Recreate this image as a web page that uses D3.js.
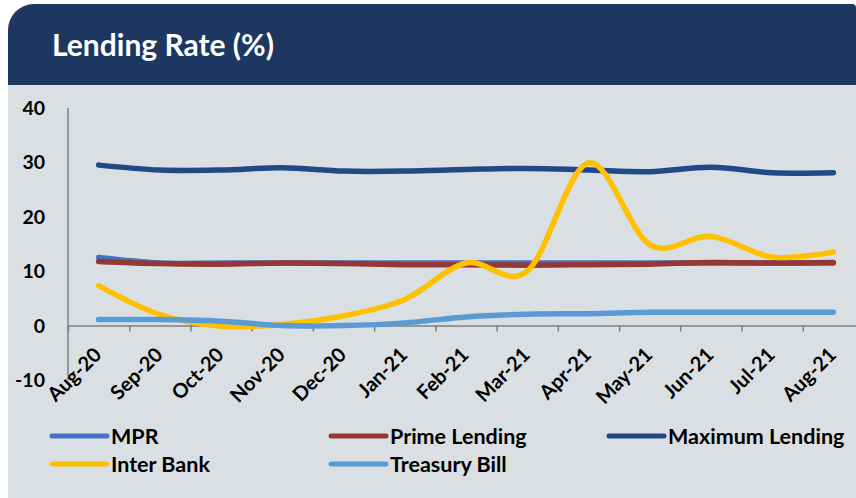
<!DOCTYPE html>
<html>
<head>
<meta charset="utf-8">
<script src="https://cdn.jsdelivr.net/npm/d3@7"></script>
<style>
  body { margin: 0; background: #ffffff; }
  text { font-family: Lato, "Open Sans", sans-serif; font-weight: bold; }
</style>
</head>
<body>
<div id="chart"></div>
<script>
// chart values
let months = ["Aug-20", "Sep-20", "Oct-20", "Nov-20", "Dec-20", "Jan-21", "Feb-21",
	"Mar-21", "Apr-21", "May-21", "Jun-21", "Jul-21", "Aug-21"];
let mpr = [12.5, 11.5, 11.5, 11.5, 11.5, 11.5, 11.5, 11.5, 11.5, 11.5, 11.5, 11.5, 11.5];
let primeLending = [11.8, 11.4, 11.3, 11.5, 11.4, 11.2, 11.2, 11.1, 11.2, 11.3, 11.6, 11.5, 11.6];
let maxLending = [29.5, 28.6, 28.6, 29.0, 28.4, 28.4, 28.7, 28.9, 28.6, 28.3, 29.1, 28.1, 28.1];
let interBank = [7.35, 2.0, -0.1, 0.2, 1.8, 4.8, 11.5, 10.0, 29.9, 14.9, 16.4, 12.6, 13.5];
let treasuryBill = [1.1, 1.1, 0.8, 0.0, 0.0, 0.5, 1.6, 2.1, 2.2, 2.45, 2.45, 2.45, 2.45];
let yTicks = [-10, 0, 10, 20, 30, 40];

let series = [
	{ name: "MPR", values: mpr, color: "#4472c4" },
	{ name: "Prime Lending", values: primeLending, color: "#953735" },
	{ name: "Maximum Lending", values: maxLending, color: "#1f4a86" },
	{ name: "Inter Bank", values: interBank, color: "#ffc000" },
	{ name: "Treasury Bill", values: treasuryBill, color: "#5b9bd5" }
];

let W = 856, H = 498;
let svg = d3.select("#chart").append("svg")
	.attr("width", W)
	.attr("height", H);

// panel + header
svg.append("rect")
	.attr("x", 8).attr("y", 85)
	.attr("width", W - 8).attr("height", H - 85)
	.attr("fill", "#d9dfe2");

let r = 26;
svg.append("path")
	.attr("d", `M8,85 L8,${4 + r} A${r},${r} 0 0 1 ${8 + r},4 L${W - 4},4 A4,4 0 0 1 ${W},8 L${W},85 Z`)
	.attr("fill", "#1e3761");

svg.append("text")
	.attr("x", 52).attr("y", 56)
	.attr("fill", "#ffffff")
	.style("font-size", "30px")
	.text("Lending Rate (%)");

// scales
let plotLeft = 68, plotRight = 864;
let x = d3.scaleBand()
	.domain(months)
	.range([plotLeft, plotRight])
	.padding(0);

let y = d3.scaleLinear()
	.domain([-10, 40])
	.range([380, 108]);

// y axis (line only, labels to the left)
svg.append("line")
	.attr("x1", plotLeft).attr("x2", plotLeft)
	.attr("y1", y(40)).attr("y2", y(-10))
	.attr("stroke", "#7f7f7f")
	.attr("stroke-width", 1.5);

svg.selectAll(".y-label")
	.data(yTicks)
	.enter().append("text")
	.attr("class", "y-label")
	.attr("x", 45)
	.attr("y", d => y(d))
	.attr("dy", "0.36em")
	.attr("text-anchor", "end")
	.attr("fill", "#000000")
	.style("font-size", "19.5px")
	.text(d => d);

// x axis at zero, ticks on category boundaries
let xEdge = d3.scaleLinear().domain([0, months.length]).range([plotLeft, plotRight]);
let xAxis = d3.axisBottom(xEdge)
	.tickValues(d3.range(0, months.length + 1))
	.tickSize(6)
	.tickSizeOuter(0)
	.tickFormat("");

let xg = svg.append("g")
	.attr("transform", "translate(0," + y(0) + ")")
	.call(xAxis);
xg.select(".domain").attr("stroke", "#7f7f7f").attr("stroke-width", 1.5);
xg.selectAll(".tick line").attr("stroke", "#7f7f7f").attr("stroke-width", 1.5);

svg.selectAll(".x-label")
	.data(months)
	.enter().append("text")
	.attr("class", "x-label")
	.attr("text-anchor", "end")
	.attr("transform", d => "translate(" + (x(d) + x.bandwidth() / 2 + 4) + "," + 356 + ") rotate(-45)")
	.attr("fill", "#000000")
	.style("font-size", "20px")
	.text(d => d);

// lines
let line = d3.line()
	.x((d, i) => x(months[i]) + x.bandwidth() / 2)
	.y(d => y(d))
	.curve(d3.curveCardinal.tension(0));

svg.selectAll(".series")
	.data(series)
	.enter().append("path")
	.attr("class", "series")
	.attr("d", d => line(d.values))
	.attr("fill", "none")
	.attr("stroke", d => d.color)
	.attr("stroke-width", 5.5)
	.attr("stroke-linecap", "round")
	.attr("stroke-linejoin", "round");

// legend
let legendPos = [[52, 436], [331, 436], [609, 436], [52, 464], [331, 464]];
let legend = svg.selectAll(".legend")
	.data(series)
	.enter().append("g")
	.attr("class", "legend")
	.attr("transform", (d, i) => "translate(" + legendPos[i][0] + "," + legendPos[i][1] + ")");

legend.append("line")
	.attr("x1", 0).attr("x2", 55)
	.attr("stroke", d => d.color)
	.attr("stroke-width", 5)
	.attr("stroke-linecap", "round");

legend.append("text")
	.attr("x", 59)
	.attr("dy", "0.36em")
	.attr("fill", "#000000")
	.style("font-size", "21.5px")
	.text(d => d.name);
</script>
</body>
</html>
